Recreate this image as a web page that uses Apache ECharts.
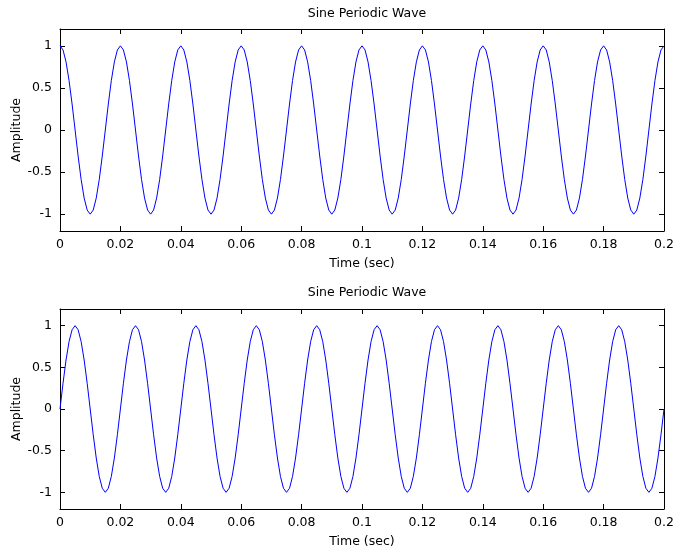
<!DOCTYPE html>
<html>
<head>
<meta charset="utf-8">
<script src="https://cdn.jsdelivr.net/npm/echarts@6/dist/echarts.min.js"></script>
<style>
html,body{margin:0;padding:0;background:#fff;}
#c{width:676px;height:553px;}
</style>
</head>
<body>
<div id="c"></div>
<script>
// Sample times (sec)
var times = [
0,0.001,0.002,0.003,0.004,0.005,0.006,0.007,0.008,0.009,0.01,0.011,0.012,0.013,0.014,0.015,0.016,0.017,0.018,0.019,
0.02,0.021,0.022,0.023,0.024,0.025,0.026,0.027,0.028,0.029,0.03,0.031,0.032,0.033,0.034,0.035,0.036,0.037,0.038,0.039,
0.04,0.041,0.042,0.043,0.044,0.045,0.046,0.047,0.048,0.049,0.05,0.051,0.052,0.053,0.054,0.055,0.056,0.057,0.058,0.059,
0.06,0.061,0.062,0.063,0.064,0.065,0.066,0.067,0.068,0.069,0.07,0.071,0.072,0.073,0.074,0.075,0.076,0.077,0.078,0.079,
0.08,0.081,0.082,0.083,0.084,0.085,0.086,0.087,0.088,0.089,0.09,0.091,0.092,0.093,0.094,0.095,0.096,0.097,0.098,0.099,
0.1,0.101,0.102,0.103,0.104,0.105,0.106,0.107,0.108,0.109,0.11,0.111,0.112,0.113,0.114,0.115,0.116,0.117,0.118,0.119,
0.12,0.121,0.122,0.123,0.124,0.125,0.126,0.127,0.128,0.129,0.13,0.131,0.132,0.133,0.134,0.135,0.136,0.137,0.138,0.139,
0.14,0.141,0.142,0.143,0.144,0.145,0.146,0.147,0.148,0.149,0.15,0.151,0.152,0.153,0.154,0.155,0.156,0.157,0.158,0.159,
0.16,0.161,0.162,0.163,0.164,0.165,0.166,0.167,0.168,0.169,0.17,0.171,0.172,0.173,0.174,0.175,0.176,0.177,0.178,0.179,
0.18,0.181,0.182,0.183,0.184,0.185,0.186,0.187,0.188,0.189,0.19,0.191,0.192,0.193,0.194,0.195,0.196,0.197,0.198,0.199,
0.2
];
// Top plot amplitude
var topAmplitude = [
1,0.951,0.809,0.588,0.309,0,-0.309,-0.588,-0.809,-0.951,-1,-0.951,-0.809,-0.588,-0.309,0,0.309,0.588,0.809,0.951,
1,0.951,0.809,0.588,0.309,0,-0.309,-0.588,-0.809,-0.951,-1,-0.951,-0.809,-0.588,-0.309,0,0.309,0.588,0.809,0.951,
1,0.951,0.809,0.588,0.309,0,-0.309,-0.588,-0.809,-0.951,-1,-0.951,-0.809,-0.588,-0.309,0,0.309,0.588,0.809,0.951,
1,0.951,0.809,0.588,0.309,0,-0.309,-0.588,-0.809,-0.951,-1,-0.951,-0.809,-0.588,-0.309,0,0.309,0.588,0.809,0.951,
1,0.951,0.809,0.588,0.309,0,-0.309,-0.588,-0.809,-0.951,-1,-0.951,-0.809,-0.588,-0.309,0,0.309,0.588,0.809,0.951,
1,0.951,0.809,0.588,0.309,0,-0.309,-0.588,-0.809,-0.951,-1,-0.951,-0.809,-0.588,-0.309,0,0.309,0.588,0.809,0.951,
1,0.951,0.809,0.588,0.309,0,-0.309,-0.588,-0.809,-0.951,-1,-0.951,-0.809,-0.588,-0.309,0,0.309,0.588,0.809,0.951,
1,0.951,0.809,0.588,0.309,0,-0.309,-0.588,-0.809,-0.951,-1,-0.951,-0.809,-0.588,-0.309,0,0.309,0.588,0.809,0.951,
1,0.951,0.809,0.588,0.309,0,-0.309,-0.588,-0.809,-0.951,-1,-0.951,-0.809,-0.588,-0.309,0,0.309,0.588,0.809,0.951,
1,0.951,0.809,0.588,0.309,0,-0.309,-0.588,-0.809,-0.951,-1,-0.951,-0.809,-0.588,-0.309,0,0.309,0.588,0.809,0.951,
1
];
// Bottom plot amplitude
var bottomAmplitude = [
0,0.309,0.588,0.809,0.951,1,0.951,0.809,0.588,0.309,0,-0.309,-0.588,-0.809,-0.951,-1,-0.951,-0.809,-0.588,-0.309,
0,0.309,0.588,0.809,0.951,1,0.951,0.809,0.588,0.309,0,-0.309,-0.588,-0.809,-0.951,-1,-0.951,-0.809,-0.588,-0.309,
0,0.309,0.588,0.809,0.951,1,0.951,0.809,0.588,0.309,0,-0.309,-0.588,-0.809,-0.951,-1,-0.951,-0.809,-0.588,-0.309,
0,0.309,0.588,0.809,0.951,1,0.951,0.809,0.588,0.309,0,-0.309,-0.588,-0.809,-0.951,-1,-0.951,-0.809,-0.588,-0.309,
0,0.309,0.588,0.809,0.951,1,0.951,0.809,0.588,0.309,0,-0.309,-0.588,-0.809,-0.951,-1,-0.951,-0.809,-0.588,-0.309,
0,0.309,0.588,0.809,0.951,1,0.951,0.809,0.588,0.309,0,-0.309,-0.588,-0.809,-0.951,-1,-0.951,-0.809,-0.588,-0.309,
0,0.309,0.588,0.809,0.951,1,0.951,0.809,0.588,0.309,0,-0.309,-0.588,-0.809,-0.951,-1,-0.951,-0.809,-0.588,-0.309,
0,0.309,0.588,0.809,0.951,1,0.951,0.809,0.588,0.309,0,-0.309,-0.588,-0.809,-0.951,-1,-0.951,-0.809,-0.588,-0.309,
0,0.309,0.588,0.809,0.951,1,0.951,0.809,0.588,0.309,0,-0.309,-0.588,-0.809,-0.951,-1,-0.951,-0.809,-0.588,-0.309,
0,0.309,0.588,0.809,0.951,1,0.951,0.809,0.588,0.309,0,-0.309,-0.588,-0.809,-0.951,-1,-0.951,-0.809,-0.588,-0.309,
0
];
var yTickValues = [-1, -0.5, 0, 0.5, 1];
var titles = ['Sine Periodic Wave', 'Sine Periodic Wave'];
var xName = 'Time (sec)';
var yName = 'Amplitude';

var FONT = 'DejaVu Sans, Verdana, sans-serif';
var FS = 12.5;
var lineStyle = {color: '#000', width: 1};

function pairs(t, v) { return t.map(function (x, i) { return [x, v[i]]; }); }

var grids = [
  {left: 60, top: 29, width: 604, height: 202, containLabel: false, outerBoundsMode: 'none'},
  {left: 60, top: 309, width: 604, height: 200, containLabel: false, outerBoundsMode: 'none'}
];

var xAxes = [], yAxes = [];
grids.forEach(function (g, gi) {
  xAxes.push({
    type: 'value', gridIndex: gi, min: 0, max: 0.2, interval: 0.02, position: 'bottom',
    name: xName, nameLocation: 'middle', nameGap: 26, nameMoveOverlap: false,
    nameTextStyle: {color: '#000', fontFamily: FONT, fontSize: FS},
    axisLine: {show: true, onZero: false, lineStyle: lineStyle},
    axisTick: {show: true, inside: true, length: 5, lineStyle: lineStyle},
    axisLabel: {color: '#000', fontFamily: FONT, fontSize: FS, margin: 7,
      formatter: function (v) { return String(+v.toFixed(3)); }},
    splitLine: {show: false}
  });
  xAxes.push({
    type: 'value', gridIndex: gi, min: 0, max: 0.2, interval: 0.02, position: 'top',
    axisLine: {show: true, onZero: false, lineStyle: lineStyle},
    axisTick: {show: true, inside: true, length: 5, lineStyle: lineStyle},
    axisLabel: {show: false}, splitLine: {show: false}
  });
  yAxes.push({
    type: 'value', gridIndex: gi, min: -1.2, max: 1.2, position: 'left',
    name: yName, nameLocation: 'middle', nameGap: 37, nameRotate: 90, nameMoveOverlap: false,
    nameTextStyle: {color: '#000', fontFamily: FONT, fontSize: FS},
    axisLine: {show: true, onZero: false, lineStyle: lineStyle},
    axisTick: {show: true, inside: true, length: 5, lineStyle: lineStyle, customValues: yTickValues},
    axisLabel: {color: '#000', fontFamily: FONT, fontSize: FS, margin: 8, customValues: yTickValues},
    splitLine: {show: false}
  });
  yAxes.push({
    type: 'value', gridIndex: gi, min: -1.2, max: 1.2, position: 'right',
    axisLine: {show: true, onZero: false, lineStyle: lineStyle},
    axisTick: {show: true, inside: true, length: 5, lineStyle: lineStyle, customValues: yTickValues},
    axisLabel: {show: false, customValues: yTickValues}, splitLine: {show: false}
  });
});

var option = {
  backgroundColor: '#fff',
  animation: false,
  title: [
    {text: titles[0], left: 362, top: 2, textAlign: 'center',
     textStyle: {color: '#000', fontFamily: FONT, fontSize: FS, fontWeight: 'normal'}},
    {text: titles[1], left: 362, top: 281, textAlign: 'center',
     textStyle: {color: '#000', fontFamily: FONT, fontSize: FS, fontWeight: 'normal'}}
  ],
  grid: grids,
  xAxis: xAxes,
  yAxis: yAxes,
  series: [
    {type: 'line', xAxisIndex: 0, yAxisIndex: 0, data: pairs(times, topAmplitude),
     showSymbol: false, smooth: false, lineStyle: {color: '#0000ff', width: 1}},
    {type: 'line', xAxisIndex: 2, yAxisIndex: 2, data: pairs(times, bottomAmplitude),
     showSymbol: false, smooth: false, lineStyle: {color: '#0000ff', width: 1}}
  ]
};
var chart = echarts.init(document.getElementById('c'), null, {renderer: 'canvas'});
chart.setOption(option);
</script>
</body>
</html>
